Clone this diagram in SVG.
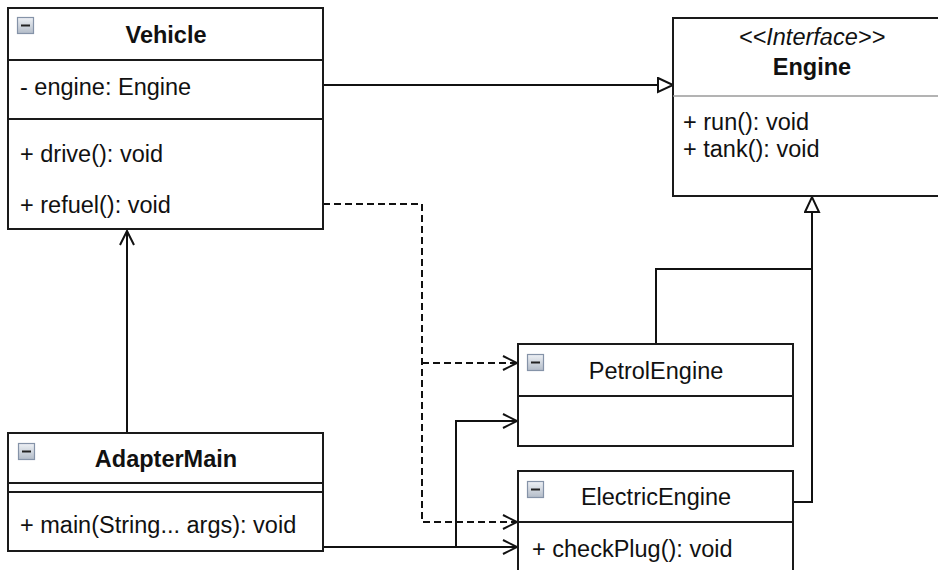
<svg xmlns="http://www.w3.org/2000/svg" width="938" height="570" viewBox="0 0 938 570">
  <defs>
    <linearGradient id="ig" x1="0" y1="0" x2="0" y2="1">
      <stop offset="0" stop-color="#eef1f5"/>
      <stop offset="1" stop-color="#b3bcc8"/>
    </linearGradient>
    <marker id="open" markerUnits="userSpaceOnUse" markerWidth="20" markerHeight="20" refX="15" refY="8" orient="auto">
      <path d="M1,1 L15,8 L1,15" fill="none" stroke="#111" stroke-width="2"/>
    </marker>
    <marker id="tri" markerUnits="userSpaceOnUse" markerWidth="20" markerHeight="20" refX="16" refY="8" orient="auto">
      <path d="M1,1 L16,8 L1,15 Z" fill="#fff" stroke="#111" stroke-width="2"/>
    </marker>
    <g id="icon">
      <rect x="0.5" y="0.5" width="16" height="16" fill="url(#ig)" stroke="#8593a8" stroke-width="1.2"/>
      <line x1="4" y1="8.5" x2="13" y2="8.5" stroke="#222" stroke-width="2"/>
    </g>
  </defs>
  <style>
    .box { fill: #fff; stroke: #1a1a1a; stroke-width: 2; }
    .div { stroke: #1a1a1a; stroke-width: 2; }
    .gdiv { stroke: #9a9a9a; stroke-width: 1.5; }
    .t { font-family: "Liberation Sans", Helvetica, Arial, sans-serif; font-size: 23.5px; fill: #111; }
    .b { font-weight: bold; }
    .i { font-style: italic; }
    .c { text-anchor: middle; }
    .ln { fill: none; stroke: #111; stroke-width: 2; }
    .dash { stroke-dasharray: 7 4; }
  </style>

  <g id="connectors">
    <path class="ln" d="M323,85 H673" marker-end="url(#tri)"/>
    <path class="ln" d="M656,343 V269 H812"/>
    <path class="ln" d="M793,502 H812 V197" marker-end="url(#tri)"/>
    <path class="ln dash" d="M323,204 H422 V522 H517" marker-end="url(#open)"/>
    <path class="ln dash" d="M422,363 H517" marker-end="url(#open)"/>
    <path class="ln" d="M127,433 V231" marker-end="url(#open)"/>
    <path class="ln" d="M323,547 H517" marker-end="url(#open)"/>
    <path class="ln" d="M456,547 V421 H517" marker-end="url(#open)"/>
  </g>

  <g id="Vehicle">
    <rect class="box" x="8" y="8" width="315" height="221"/>
    <line class="div" x1="8" y1="60" x2="323" y2="60"/>
    <line class="div" x1="8" y1="119" x2="323" y2="119"/>
    <use href="#icon" x="17" y="17"/>
    <text class="t b c" x="166" y="43">Vehicle</text>
    <text class="t" x="20" y="95">- engine: Engine</text>
    <text class="t" x="20" y="162">+ drive(): void</text>
    <text class="t" x="20" y="213">+ refuel(): void</text>
  </g>

  <g id="Engine">
    <rect class="box" x="673" y="18" width="278" height="178"/>
    <line class="gdiv" x1="673" y1="96" x2="951" y2="96"/>
    <text class="t i c" x="812" y="45">&lt;&lt;Interface&gt;&gt;</text>
    <text class="t b c" x="812" y="75">Engine</text>
    <text class="t" x="683" y="130">+ run(): void</text>
    <text class="t" x="683" y="157">+ tank(): void</text>
  </g>

  <g id="PetrolEngine">
    <rect class="box" x="518" y="344" width="275" height="102"/>
    <line class="div" x1="518" y1="396" x2="793" y2="396"/>
    <use href="#icon" x="527" y="354"/>
    <text class="t c" x="656" y="379">PetrolEngine</text>
  </g>

  <g id="ElectricEngine">
    <rect class="box" x="518" y="471" width="275" height="120"/>
    <line class="div" x1="518" y1="522" x2="793" y2="522"/>
    <use href="#icon" x="527" y="481"/>
    <text class="t c" x="656" y="505">ElectricEngine</text>
    <text class="t" x="532" y="557">+ checkPlug(): void</text>
  </g>

  <g id="AdapterMain">
    <rect class="box" x="8" y="433" width="315" height="118"/>
    <line class="div" x1="8" y1="483" x2="323" y2="483"/>
    <line class="div" x1="8" y1="492" x2="323" y2="492"/>
    <use href="#icon" x="18" y="443"/>
    <text class="t b c" x="166" y="467">AdapterMain</text>
    <text class="t" x="20" y="533">+ main(String... args): void</text>
  </g>
</svg>
